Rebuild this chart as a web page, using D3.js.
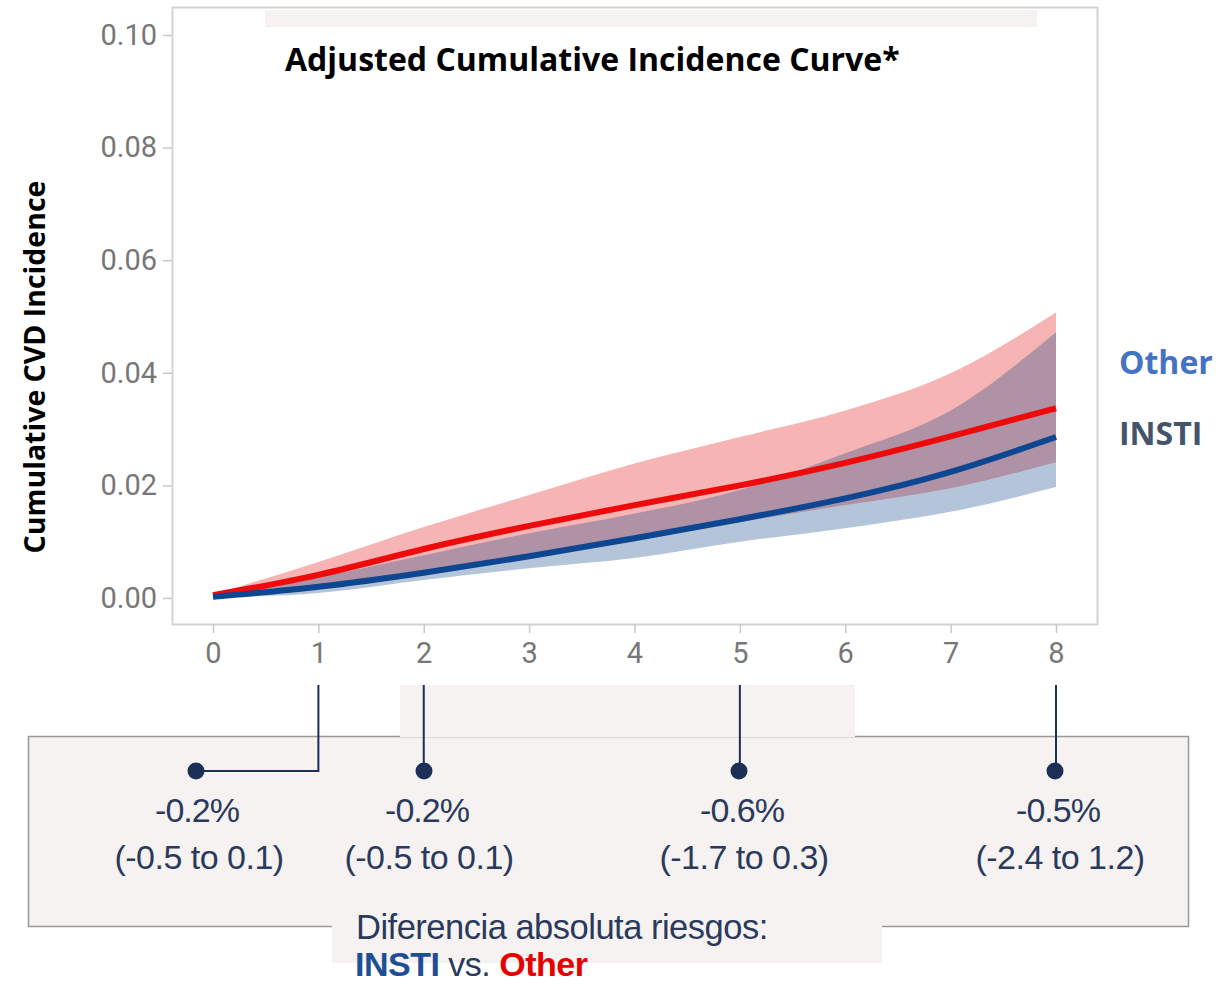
<!DOCTYPE html>
<html>
<head>
<meta charset="utf-8">
<script src="https://cdn.jsdelivr.net/npm/d3@7"></script>
<style>
  body { margin: 0; background: #fff; }
  svg text { font-family: "Liberation Sans", Arial, sans-serif; }
</style>
</head>
<body>
<div id="chart-area"></div>
<script>
// years since start
var years = [0, 1, 2, 3, 4, 5, 6, 7, 8];

// "Other" regimen (red)
var otherEst   = [0.0005, 0.0041, 0.0087, 0.0128, 0.0165, 0.0200, 0.0240, 0.0287, 0.0337];
var otherUpper = [0.0006, 0.0064, 0.0126, 0.0183, 0.0239, 0.0286, 0.0333, 0.0399, 0.0507];
var otherLower = [0.0003, 0.0019, 0.0044, 0.0070, 0.0104, 0.0135, 0.0165, 0.0195, 0.0241];

// INSTI regimen (blue)
var instiEst   = [0.0002, 0.0020, 0.0045, 0.0074, 0.0106, 0.0140, 0.0177, 0.0224, 0.0286];
var instiUpper = [0.0004, 0.0037, 0.0076, 0.0115, 0.0150, 0.0192, 0.0257, 0.0333, 0.0472];
var instiLower = [0.0001, 0.0009, 0.0032, 0.0053, 0.0071, 0.0100, 0.0124, 0.0153, 0.0197];

var yTicks = [0, 0.02, 0.04, 0.06, 0.08, 0.10];

// absolute risk differences shown under the axis
var diffYears  = [1, 2, 5, 8];
var diffValues = ["-0.2%", "-0.2%", "-0.6%", "-0.5%"];
var diffCIs    = ["(-0.5 to 0.1)", "(-0.5 to 0.1)", "(-1.7 to 0.3)", "(-2.4 to 1.2)"];
var diffDotX   = [196, 424, 739, 1055];

var svg = d3.select("#chart-area")
    .append("svg")
    .attr("width", 1229)
    .attr("height", 984);

var x = d3.scaleLinear().domain([0, 8]).range([213, 1056]);
var y = d3.scaleLinear().domain([0, 0.10]).range([598, 35]);

// light background patches
svg.append("rect").attr("x", 265).attr("y", 10).attr("width", 772).attr("height", 17).attr("fill", "#f6f2f1");
svg.append("rect").attr("x", 400).attr("y", 685).attr("width", 455).attr("height", 60).attr("fill", "#f5f2f1");

// plot frame
svg.append("rect")
    .attr("x", 172.5).attr("y", 7.5)
    .attr("width", 925).attr("height", 617)
    .attr("fill", "none")
    .attr("stroke", "#d3d3d3")
    .attr("stroke-width", 2);

// axes
var yAxis = d3.axisLeft(y).tickValues(yTicks).tickSize(9).tickPadding(6)
    .tickFormat(d3.format(".2f"));
var gy = svg.append("g").attr("transform", "translate(172,0)").call(yAxis);
gy.select(".domain").remove();

var xAxis = d3.axisBottom(x).tickValues(years).tickSize(9).tickPadding(9);
var gx = svg.append("g").attr("transform", "translate(0,624)").call(xAxis);
gx.select(".domain").remove();

svg.selectAll(".tick line").attr("stroke", "#c8c8c8").attr("stroke-width", 1.5);
svg.selectAll(".tick text")
    .attr("fill", "#777")
    .style("font-family", "Roboto, sans-serif")
    .style("font-size", "29px");

// bands
function band(lo, hi) {
    return d3.area()
        .x(function(d, i) { return x(years[i]); })
        .y0(function(d, i) { return y(lo[i]); })
        .y1(function(d, i) { return y(hi[i]); })
        .curve(d3.curveMonotoneX)(years);
}
svg.append("path").attr("d", band(otherLower, otherUpper))
    .attr("fill", "rgb(232,40,40)").attr("fill-opacity", 0.35);
svg.append("path").attr("d", band(instiLower, instiUpper))
    .attr("fill", "rgb(30,80,140)").attr("fill-opacity", 0.33);

// estimate lines
var line = d3.line()
    .x(function(d, i) { return x(years[i]); })
    .y(function(d) { return y(d); })
    .curve(d3.curveNatural);

svg.append("path").attr("d", line(otherEst))
    .attr("fill", "none").attr("stroke", "#ee0a0a").attr("stroke-width", 6);
svg.append("path").attr("d", line(instiEst))
    .attr("fill", "none").attr("stroke", "#0d4791").attr("stroke-width", 6);

// title
svg.append("text")
    .attr("x", 285).attr("y", 71)
    .style("font-family", "'Open Sans', sans-serif")
    .style("font-weight", "bold")
    .style("font-size", "32px")
    .attr("fill", "#000")
    .text("Adjusted Cumulative Incidence Curve*");

// y label
svg.append("text")
    .attr("transform", "translate(45,367) rotate(-90)")
    .attr("text-anchor", "middle")
    .style("font-family", "'Open Sans', sans-serif")
    .style("font-weight", "bold")
    .style("font-size", "28.5px")
    .attr("fill", "#000")
    .text("Cumulative CVD Incidence");

// legend
svg.append("text").attr("x", 1119).attr("y", 374)
    .style("font-family", "'Open Sans', sans-serif").style("font-weight", "bold").style("font-size", "32px")
    .attr("fill", "#4472c4").text("Other");
svg.append("text").attr("x", 1119).attr("y", 445)
    .style("font-family", "'Open Sans', sans-serif").style("font-weight", "bold").style("font-size", "32px")
    .attr("fill", "#44546a").text("INSTI");

// difference box
svg.append("rect")
    .attr("x", 28.5).attr("y", 736.5)
    .attr("width", 1160).attr("height", 190)
    .attr("fill", "#f5f2f1")
    .attr("stroke", "#999").attr("stroke-width", 1.5);
svg.append("rect").attr("x", 400).attr("y", 685).attr("width", 455).attr("height", 52).attr("fill", "#f5f2f1");
svg.append("rect").attr("x", 332).attr("y", 900).attr("width", 550).attr("height", 63).attr("fill", "#f5f2f1");

var navy = "#1b2f57";
diffYears.forEach(function(t, i) {
    var tx = x(t);
    var pts = [[tx, 685], [tx, 771], [diffDotX[i], 771]];
    svg.append("path").attr("d", d3.line()(pts))
        .attr("fill", "none").attr("stroke", navy).attr("stroke-width", 2);
    svg.append("circle").attr("cx", diffDotX[i]).attr("cy", 771).attr("r", 8.5).attr("fill", navy);
    var cx = diffDotX[i] + (i === 0 ? 3 : 5);
    svg.append("text").attr("x", cx - 2).attr("y", 822)
        .attr("text-anchor", "middle").style("font-size", "34px").attr("fill", "#2b3a5c")
        .attr("letter-spacing", "-1")
        .text(diffValues[i]);
    svg.append("text").attr("x", cx).attr("y", 869)
        .attr("text-anchor", "middle").style("font-size", "34px").attr("fill", "#2b3a5c")
        .attr("letter-spacing", "-0.5")
        .text(diffCIs[i]);
});

svg.append("text").attr("x", 356).attr("y", 939)
    .style("font-size", "34.5px").attr("fill", "#2b3a5c")
    .attr("letter-spacing", "-0.5")
    .text("Diferencia absoluta riesgos:");
var foot = svg.append("text").attr("x", 355).attr("y", 976).style("font-size", "34px")
    .attr("letter-spacing", "-0.5");
foot.append("tspan").attr("fill", "#1f4e96").style("font-weight", "bold").text("INSTI");
foot.append("tspan").attr("fill", "#2b3a5c").text(" vs. ");
foot.append("tspan").attr("fill", "#e60000").style("font-weight", "bold").text("Other");
</script>
</body>
</html>
